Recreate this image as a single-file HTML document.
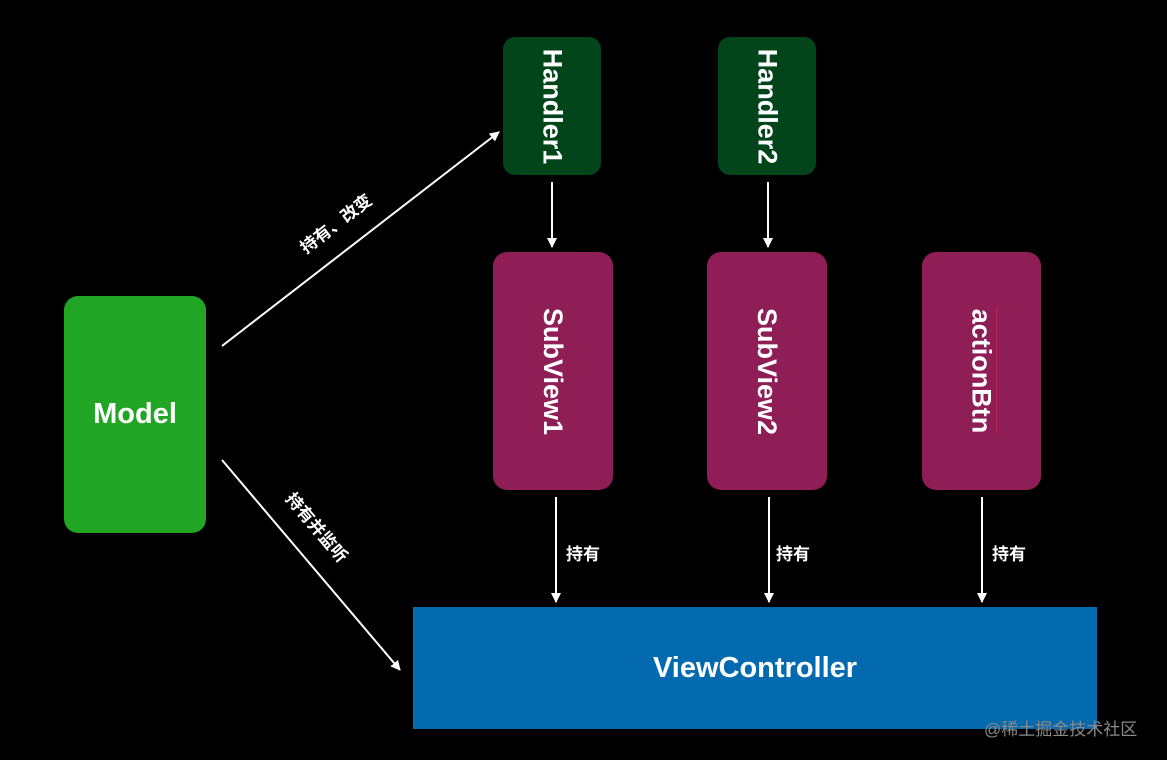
<!DOCTYPE html>
<html><head><meta charset="utf-8"><style>
html,body{margin:0;padding:0;background:#000;}
body{width:1167px;height:760px;position:relative;overflow:hidden;font-family:"Liberation Sans","Noto Sans CJK SC",sans-serif;color:#fff;}
.b{position:absolute;display:flex;align-items:center;justify-content:center;font-weight:bold;}
.v{transform:rotate(90deg);white-space:nowrap;font-size:27px;}
.l{position:absolute;font-size:17px;font-weight:bold;white-space:nowrap;}
</style></head><body>
<div class="b" style="left:64px;top:296px;width:142px;height:237px;background:#21a524;border-radius:14px;font-size:29px;">Model</div>
<div class="b" style="left:503px;top:37px;width:98px;height:138px;background:#03451a;border-radius:12px;"><span class="v">Handler1</span></div>
<div class="b" style="left:718px;top:37px;width:98px;height:138px;background:#03451a;border-radius:12px;"><span class="v">Handler2</span></div>
<div class="b" style="left:493px;top:252px;width:120px;height:238px;background:#8e1e55;border-radius:14px;"><span class="v">SubView1</span></div>
<div class="b" style="left:707px;top:252px;width:120px;height:238px;background:#8e1e55;border-radius:14px;"><span class="v">SubView2</span></div>
<div class="b" style="left:922px;top:252px;width:119px;height:238px;background:#8e1e55;border-radius:14px;"><span class="v" style="border-top:1px dotted #e33;">actionBtn</span></div>
<div class="b" style="left:413px;top:607px;width:684px;height:122px;background:#036aaf;font-size:29px;">ViewController</div>
<svg width="1167" height="760" style="position:absolute;left:0;top:0">
<defs><marker id="a" markerWidth="10" markerHeight="10" refX="9" refY="5" orient="auto" markerUnits="userSpaceOnUse"><path d="M0,0 L10,5 L0,10 Z" fill="#fff"/></marker></defs>
<g stroke="#fff" stroke-width="2" fill="none" marker-end="url(#a)">
<line x1="222" y1="346" x2="499" y2="132"/>
<line x1="222" y1="460" x2="400" y2="670"/>
<line x1="552" y1="182" x2="552" y2="247"/>
<line x1="768" y1="182" x2="768" y2="247"/>
<line x1="556" y1="497" x2="556" y2="602"/>
<line x1="769" y1="497" x2="769" y2="602"/>
<line x1="982" y1="497" x2="982" y2="602"/>
</g></svg>
<div class="l" style="left:566px;top:540px;">持有</div>
<div class="l" style="left:776px;top:540px;">持有</div>
<div class="l" style="left:992px;top:540px;">持有</div>
<div class="l" style="left:285px;top:210px;width:100px;text-align:center;transform:rotate(-37.7deg);">持有、改变</div>
<div class="l" style="left:268px;top:514px;width:100px;text-align:center;transform:rotate(49.7deg);">持有并监听</div>
<div style="position:absolute;left:984px;top:715px;font-size:17px;color:#8a8a8a;">@稀土掘金技术社区</div>
</body></html>
